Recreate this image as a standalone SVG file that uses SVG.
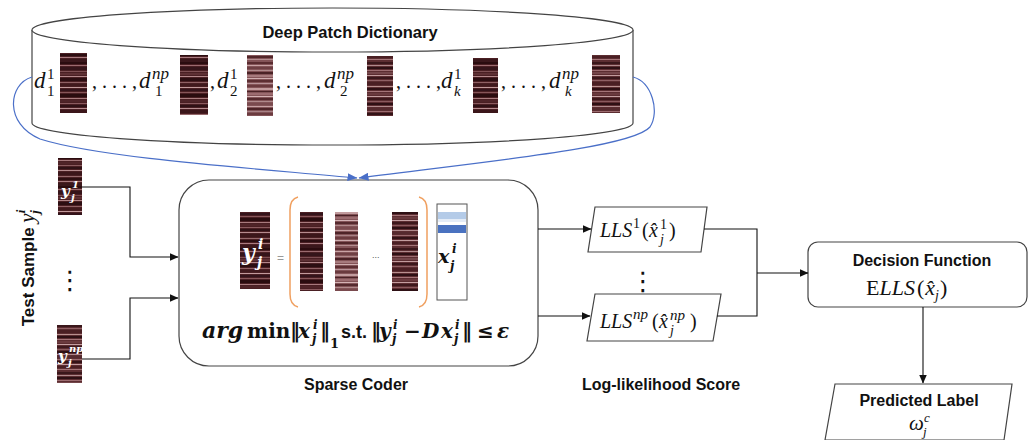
<svg xmlns="http://www.w3.org/2000/svg" width="1029" height="440" viewBox="0 0 1029 440">
<style>
.lbl{font-family:"Liberation Sans",Arial,sans-serif;font-weight:bold;fill:#111;}
.m{font-family:"Liberation Serif","Times New Roman",serif;font-style:italic;fill:#111;}
.mu{font-family:"Liberation Serif","Times New Roman",serif;fill:#111;}
.mb{font-family:"DejaVu Serif","Liberation Serif",serif;font-weight:bold;font-style:italic;fill:#111;}
.mbu{font-family:"DejaVu Serif","Liberation Serif",serif;font-weight:bold;fill:#111;}
.wt{font-family:"DejaVu Serif","Liberation Serif",serif;font-weight:bold;font-style:italic;fill:#fff;}
.vd{font-family:"DejaVu Sans",sans-serif;fill:#111;}
.shape{fill:#fff;stroke:#444;stroke-width:1.2;}
.conn{fill:none;stroke:#111;stroke-width:1.1;}
.blue{fill:none;stroke:#4a6fc8;stroke-width:1.2;}
.brk{fill:none;stroke:#f0a060;stroke-width:1.5;}
</style>
<defs>
<marker id="ah" markerWidth="9" markerHeight="8" refX="8.5" refY="4" orient="auto" markerUnits="userSpaceOnUse"><path d="M0,0 L9,4 L0,8 z" fill="#111"/></marker>
<marker id="ahb" markerWidth="10" markerHeight="8" refX="9.5" refY="4" orient="auto" markerUnits="userSpaceOnUse"><path d="M0,0 L10,4 L0,8 z" fill="#4a6fc8"/></marker>
<pattern id="pd" patternUnits="userSpaceOnUse" width="40" height="62">
<rect width="40" height="62" fill="#4a1f23"/>
<rect y="0" width="40" height="2" fill="#2a0c0f"/><rect y="3" width="40" height="1" fill="#9b6b6f"/><rect y="5" width="40" height="3" fill="#35151a"/><rect y="9" width="40" height="1" fill="#7d4e52"/><rect y="11" width="40" height="2" fill="#5e3034"/><rect y="14" width="40" height="1" fill="#b3878a"/><rect y="16" width="40" height="3" fill="#2c0e12"/><rect y="20" width="40" height="1" fill="#8f6064"/><rect y="22" width="40" height="2" fill="#40191d"/><rect y="25" width="40" height="1" fill="#c29a9c"/><rect y="27" width="40" height="2" fill="#33131a"/><rect y="30" width="40" height="1" fill="#865559"/><rect y="32" width="40" height="3" fill="#2a0c0f"/><rect y="36" width="40" height="1" fill="#a77a7d"/><rect y="38" width="40" height="2" fill="#4f2428"/><rect y="41" width="40" height="1" fill="#8a5b5f"/><rect y="43" width="40" height="2" fill="#2f1115"/><rect y="46" width="40" height="1" fill="#b58b8e"/><rect y="48" width="40" height="3" fill="#3b161a"/><rect y="52" width="40" height="1" fill="#93676a"/><rect y="54" width="40" height="2" fill="#2c0e11"/><rect y="57" width="40" height="1" fill="#a97c80"/><rect y="59" width="40" height="3" fill="#3a171b"/>
</pattern>
<pattern id="pl" patternUnits="userSpaceOnUse" width="40" height="62">
<rect width="40" height="62" fill="#845458"/>
<rect y="0" width="40" height="2" fill="#5a2c30"/><rect y="3" width="40" height="1" fill="#c9a3a5"/><rect y="5" width="40" height="2" fill="#6e3f43"/><rect y="8" width="40" height="1" fill="#b08a8c"/><rect y="10" width="40" height="2" fill="#4a2226"/><rect y="13" width="40" height="2" fill="#a67a7d"/><rect y="16" width="40" height="1" fill="#d0aeb0"/><rect y="18" width="40" height="2" fill="#5d2f33"/><rect y="21" width="40" height="1" fill="#b9959a"/><rect y="23" width="40" height="2" fill="#6a3a3e"/><rect y="26" width="40" height="2" fill="#c29c9e"/><rect y="29" width="40" height="1" fill="#4a2226"/><rect y="31" width="40" height="2" fill="#9c6c70"/><rect y="34" width="40" height="1" fill="#d4b2b4"/><rect y="36" width="40" height="2" fill="#552a2e"/><rect y="39" width="40" height="1" fill="#b08a8c"/><rect y="41" width="40" height="2" fill="#7a4a4e"/><rect y="44" width="40" height="1" fill="#c8a2a4"/><rect y="46" width="40" height="2" fill="#4e2428"/><rect y="49" width="40" height="1" fill="#a88286"/><rect y="51" width="40" height="2" fill="#6b3b3f"/><rect y="54" width="40" height="1" fill="#ccaaac"/><rect y="56" width="40" height="2" fill="#512629"/><rect y="59" width="40" height="1" fill="#b48e90"/>
</pattern>
<pattern id="pm" patternUnits="userSpaceOnUse" width="40" height="62">
<rect width="40" height="62" fill="#5c2d31"/>
<rect y="0" width="40" height="2" fill="#3a171b"/><rect y="3" width="40" height="1" fill="#b08a8c"/><rect y="5" width="40" height="2" fill="#2e1014"/><rect y="8" width="40" height="1" fill="#9c6c70"/><rect y="10" width="40" height="2" fill="#74464a"/><rect y="13" width="40" height="1" fill="#c29c9e"/><rect y="15" width="40" height="2" fill="#3a171b"/><rect y="18" width="40" height="1" fill="#8f6064"/><rect y="20" width="40" height="3" fill="#4a1f23"/><rect y="24" width="40" height="1" fill="#b8908f"/><rect y="26" width="40" height="2" fill="#2e1014"/><rect y="29" width="40" height="1" fill="#a47478"/><rect y="31" width="40" height="2" fill="#6a3a3e"/><rect y="34" width="40" height="1" fill="#c49ea0"/><rect y="36" width="40" height="2" fill="#3d181c"/><rect y="39" width="40" height="1" fill="#8a5a5e"/><rect y="41" width="40" height="2" fill="#2e1014"/><rect y="44" width="40" height="1" fill="#b08a8c"/><rect y="46" width="40" height="2" fill="#552a2e"/><rect y="49" width="40" height="1" fill="#9c6c70"/><rect y="51" width="40" height="2" fill="#331317"/><rect y="54" width="40" height="1" fill="#c29c9e"/><rect y="56" width="40" height="2" fill="#4a1f23"/><rect y="59" width="40" height="1" fill="#a47478"/>
</pattern>
</defs>

<g id="dictionary">
<path class="shape" d="M32,30 L32,123 A300.5,22 0 0 0 633,123 L633,30"/>
<ellipse class="shape" cx="332.5" cy="30" rx="300.5" ry="22"/>
<text class="lbl" x="350" y="38" font-size="16.5" text-anchor="middle">Deep Patch Dictionary</text>
<rect x="60" y="53" width="27" height="60" fill="url(#pd)"/>
<rect x="180" y="55" width="28" height="60" fill="url(#pd)"/>
<rect x="247" y="55" width="26" height="61" fill="url(#pl)"/>
<rect x="367" y="56" width="26" height="60" fill="url(#pm)"/>
<rect x="473" y="58" width="25" height="55" fill="url(#pd)"/>
<rect x="592" y="55" width="28" height="58" fill="url(#pm)"/>
<g font-size="23">
<text class="m" x="34" y="88">d</text><text class="mu" x="47" y="79" font-size="15">1</text><text class="mu" x="47" y="96" font-size="15">1</text>
<text class="mu" x="92" y="88" font-size="20">, . . . ,</text>
<text class="m" x="139" y="88">d</text><text class="m" x="152" y="79" font-size="17">np</text><text class="mu" x="155" y="96" font-size="15">1</text>
<text class="mu" x="210" y="88" font-size="20">,</text>
<text class="m" x="217" y="88">d</text><text class="mu" x="230" y="79" font-size="15">1</text><text class="mu" x="230" y="96" font-size="15">2</text>
<text class="mu" x="276" y="88" font-size="20">, . . . ,</text>
<text class="m" x="324" y="88">d</text><text class="m" x="337" y="79" font-size="17">np</text><text class="mu" x="340" y="96" font-size="15">2</text>
<text class="mu" x="396" y="88" font-size="20">, . . . ,</text>
<text class="m" x="441" y="88">d</text><text class="mu" x="454" y="79" font-size="15">1</text><text class="m" x="454" y="96" font-size="15">k</text>
<text class="mu" x="501" y="88" font-size="20">, . . . ,</text>
<text class="m" x="549" y="88">d</text><text class="m" x="562" y="79" font-size="17">np</text><text class="m" x="565" y="96" font-size="15">k</text>
</g>
</g>

<g id="test-sample">
<text class="lbl" font-size="17" text-anchor="middle" transform="translate(34,268) rotate(-90)">Test Sample <tspan class="m" font-weight="normal" font-size="21">y</tspan><tspan class="m" font-size="13" dy="-9">i</tspan><tspan class="m" font-size="13" dx="-4" dy="14">j</tspan></text>
<rect x="58" y="158" width="24" height="57" fill="url(#pd)"/>
<text class="wt" x="61" y="196" font-size="15">y</text><text class="wt" x="72" y="188" font-size="10">1</text><text class="wt" x="71" y="201" font-size="10">j</text>
<text class="vd" x="70" y="289" font-size="26" text-anchor="middle">⋮</text>
<rect x="57" y="325" width="25" height="58" fill="url(#pm)"/>
<text class="wt" x="58" y="361" font-size="15">y</text><text class="wt" x="69" y="352" font-size="10">np</text><text class="wt" x="68" y="366" font-size="10">j</text>
</g>

<g id="sparse-coder">
<rect class="shape" x="179" y="180" width="359" height="186" rx="30"/>
<rect x="240" y="212" width="30" height="77" fill="url(#pd)"/>
<text class="wt" x="242" y="260" font-size="22">y</text><text class="wt" x="258" y="249" font-size="14">i</text><text class="wt" x="257" y="267" font-size="14">j</text>
<text x="277" y="262" font-family="Liberation Sans,sans-serif" font-size="12" fill="#999">=</text>
<path class="brk" d="M298,197 Q290,199 290,210 L290,294 Q290,305 298,307"/>
<path class="brk" d="M419,197 Q427,199 427,210 L427,294 Q427,305 419,307"/>
<rect x="300" y="212" width="23" height="79" fill="url(#pd)"/>
<rect x="335" y="212" width="23" height="79" fill="url(#pl)"/>
<text x="372" y="258" font-family="Liberation Sans,sans-serif" font-size="9" fill="#555">...</text>
<rect x="392" y="212" width="26" height="79" fill="url(#pm)"/>
<rect x="437" y="204" width="30" height="96" fill="#fff" stroke="#555" stroke-width="1"/>
<rect x="438" y="212" width="28" height="7" fill="#b4cbe8"/>
<rect x="438" y="219" width="28" height="3" fill="#e4ecf7"/>
<rect x="438" y="225" width="28" height="8" fill="#4a72c0"/>
<text class="mb" x="438" y="263" font-size="19">x</text><text class="mb" x="452" y="253" font-size="12">i</text><text class="mb" x="450" y="270" font-size="12">j</text>
<g font-size="22">
<text class="mb" x="202" y="338">arg</text>
<text class="mbu" x="247" y="338" font-size="20">min</text>
<text class="mbu" x="290" y="338" font-size="20">‖</text>
<text class="mb" x="298" y="338" font-size="20">x</text><text class="mb" x="313" y="329" font-size="12">i</text><text class="mb" x="312" y="343" font-size="12">j</text>
<text class="mbu" x="320" y="338" font-size="20">‖</text>
<text class="mbu" x="330" y="348" font-size="13">1</text>
<text class="lbl" x="341" y="338" font-size="18">s.t.</text>
<text class="mbu" x="371" y="338" font-size="20">‖</text>
<text class="mb" x="379" y="338" font-size="20">y</text><text class="mb" x="393" y="329" font-size="12">i</text><text class="mb" x="392" y="343" font-size="12">j</text>
<text class="mbu" x="404" y="338" font-size="20">−</text>
<text class="mb" x="422" y="338" font-size="20">D</text>
<text class="mb" x="441" y="338" font-size="20">x</text><text class="mb" x="455" y="329" font-size="12">i</text><text class="mb" x="454" y="343" font-size="12">j</text>
<text class="mbu" x="462" y="338" font-size="20">‖</text>
<text class="mbu" x="477" y="338" font-size="20">≤</text>
<text class="mb" x="497" y="338" font-size="20">ε</text>
</g>
<text class="lbl" x="356" y="390" font-size="16" text-anchor="middle">Sparse Coder</text>
</g>

<g id="lls">
<polygon class="shape" points="595,207 707,207 701,252 588,252"/>
<text class="m" x="600" y="237" font-size="20">LLS</text><text class="mu" x="633" y="228" font-size="14">1</text><text class="mu" x="642" y="237" font-size="20">(</text><text class="m" x="649" y="237" font-size="20">x̂</text><text class="mu" x="660" y="229" font-size="14">1</text><text class="m" x="660" y="244" font-size="14">j</text><text class="mu" x="669" y="237" font-size="20">)</text>
<text class="vd" x="643" y="290" font-size="26" text-anchor="middle">⋮</text>
<polygon class="shape" points="595,294 721,294 713,341 587,341"/>
<text class="m" x="600" y="328" font-size="20">LLS</text><text class="m" x="633" y="319" font-size="15">np</text><text class="mu" x="652" y="328" font-size="20">(</text><text class="m" x="659" y="328" font-size="20">x̂</text><text class="m" x="670" y="320" font-size="15">np</text><text class="m" x="670" y="335" font-size="14">j</text><text class="mu" x="690" y="328" font-size="20">)</text>
<text class="lbl" x="661" y="390" font-size="16" text-anchor="middle">Log-likelihood Score</text>
</g>

<g id="decision">
<rect class="shape" x="808" y="242" width="219" height="65" rx="10"/>
<text class="lbl" x="922" y="266" font-size="16" text-anchor="middle">Decision Function</text>
<text class="mu" x="866" y="295" font-size="22">E<tspan class="m">LLS</tspan><tspan dx="2">(</tspan><tspan class="m" dx="1">x̂</tspan><tspan class="m" font-size="14" dy="5">j</tspan><tspan dx="1" dy="-5">)</tspan></text>
</g>

<g id="predicted">
<polygon class="shape" points="835,384 1012,384 1004,440 825,440"/>
<text class="lbl" x="919" y="406" font-size="16" text-anchor="middle">Predicted Label</text>
<text class="m" x="909" y="430" font-size="21">ω</text><text class="m" x="924" y="422" font-size="13">c</text><text class="m" x="923" y="436" font-size="13">j</text>
</g>

<g id="connectors">
<path class="blue" d="M32,77 C8,84 4,124 40,139 C100,158 250,168 357,178" marker-end="url(#ahb)"/>
<path class="blue" d="M633,77 C652,82 660,112 650,127 C632,148 480,162 359,178" marker-end="url(#ahb)"/>
<path class="conn" d="M82,187 H130 V257 H178" marker-end="url(#ah)"/>
<path class="conn" d="M82,359 H130 V298 H178" marker-end="url(#ah)"/>
<path class="conn" d="M538,229 H591" marker-end="url(#ah)"/>
<path class="conn" d="M538,316 H590" marker-end="url(#ah)"/>
<path class="conn" d="M704,229 H757 V316 H717"/>
<path class="conn" d="M757,273 H808" marker-end="url(#ah)"/>
<path class="conn" d="M923,307 V383" marker-end="url(#ah)"/>
</g>
</svg>
